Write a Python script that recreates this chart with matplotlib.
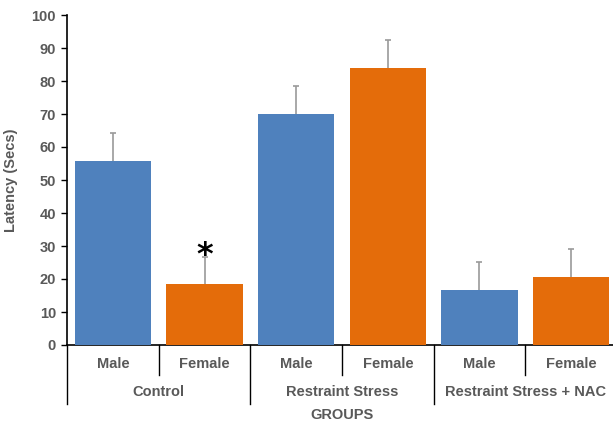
import matplotlib
matplotlib.use("Agg")
import matplotlib.pyplot as plt
import numpy as np

plt.rcParams["font.family"] = ["Liberation Sans", "DejaVu Sans"]

# Latency data per group and sex
groups = ["Control", "Restraint Stress", "Restraint Stress + NAC"]
sexes = ["Male", "Female"]
latency = [55.8, 18.4, 70.0, 83.9, 16.7, 20.6]
sem = [8.4, 8.4, 8.4, 8.5, 8.5, 8.5]
star_value = 27.0

blue = "#4F81BD"
orange = "#E46C0A"
grey_text = "#595959"
fs = 10.5

W, H = 613, 424
fig = plt.figure(figsize=(W / 100, H / 100), dpi=100)
left_px, right_px, top_px, bottom_px = 67, 617, 15, 345
ax = fig.add_axes([left_px / W, (H - bottom_px) / H,
                   (right_px - left_px) / W, (bottom_px - top_px) / H])

x = np.arange(len(latency)) + 0.5
colors = [blue if i % 2 == 0 else orange for i in range(len(latency))]
ax.bar(x, latency, width=0.83, color=colors, zorder=3)
ax.errorbar(x, latency, yerr=sem, fmt="none", ecolor="#9a9a9a",
            elinewidth=1.2, capsize=2.5, capthick=1.2, zorder=2)

# Significance marker on Control female
ax.text(x[1], star_value, "*", ha="center", va="center",
        fontsize=23, fontweight="bold", color="black", zorder=4,
        family="DejaVu Sans")

ax.set_xlim(0, 6)
ax.set_ylim(0, 100)
ax.set_yticks(np.arange(0, 101, 10))
ax.tick_params(axis="y", direction="out", length=4, width=1, color="black",
               labelsize=fs, labelcolor=grey_text, pad=4)
for lab in ax.get_yticklabels():
    lab.set_fontweight("bold")
ax.set_xticks([])
for s in ["top", "right"]:
    ax.spines[s].set_visible(False)
ax.spines["left"].set_color("black")
ax.spines["bottom"].set_color("black")
ax.spines["left"].set_linewidth(1.2)
ax.spines["bottom"].set_linewidth(1.2)

wpx = right_px - left_px
hpx = bottom_px - top_px
ax.set_ylabel("Latency (Secs)", fontsize=fs, fontweight="bold", color=grey_text)
ax.yaxis.set_label_coords((18.5 - left_px) / wpx, 0.5)

# Two-level category axis
trans = ax.get_xaxis_transform()
inner = -30 / hpx
outer = -59 / hpx
for i in range(len(latency)):
    ax.text(x[i], -19 / hpx, sexes[i % 2], transform=trans, ha="center",
            va="center", fontsize=fs, fontweight="bold", color=grey_text)
for g in range(len(groups)):
    ax.plot([2 * g + 1, 2 * g + 1], [0, inner], transform=trans,
            color="black", lw=1, clip_on=False)
    ax.plot([2 * g, 2 * g], [0, outer], transform=trans,
            color="black", lw=1, clip_on=False)
    ax.text(2 * g + 1, -47 / hpx, groups[g], transform=trans, ha="center",
            va="center", fontsize=fs, fontweight="bold", color=grey_text)
ax.text(3, -70 / hpx, "GROUPS", transform=trans, ha="center", va="center",
        fontsize=fs, fontweight="bold", color=grey_text)

fig.savefig("out.png", dpi=100)
